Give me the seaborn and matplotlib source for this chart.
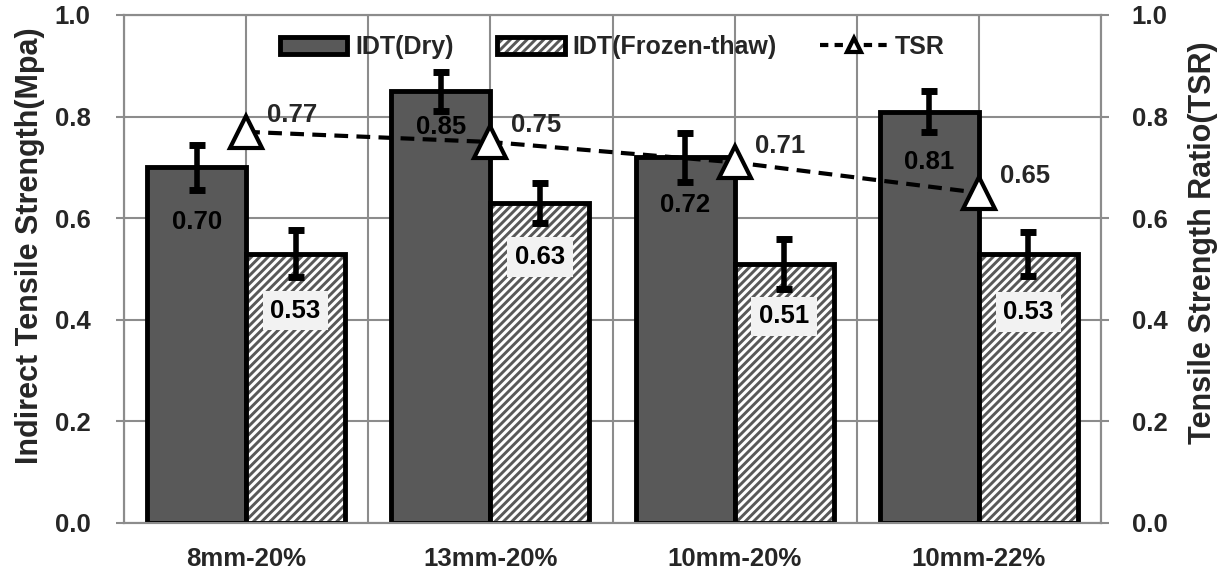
import matplotlib
matplotlib.use("Agg")
import matplotlib.pyplot as plt
from matplotlib.patches import Patch, Rectangle
from matplotlib.lines import Line2D
import numpy as np
import pandas as pd
import seaborn as sns

# ---------------- data ----------------
categories = ["8mm-20%", "13mm-20%", "10mm-20%", "10mm-22%"]
idt_dry = [0.70, 0.85, 0.72, 0.81]
idt_ft = [0.53, 0.63, 0.51, 0.53]
err_dry = [0.045, 0.038, 0.048, 0.041]
err_ft = [0.046, 0.039, 0.049, 0.043]
tsr = [0.77, 0.75, 0.71, 0.65]
series_names = ["IDT(Dry)", "IDT(Frozen-thaw)", "TSR"]
yticks = [0.0, 0.2, 0.4, 0.6, 0.8, 1.0]

# label layout offsets (below bar top)
dry_lab_off = [0.107, 0.07, 0.094, 0.10]
ft_lab_off = [0.112, 0.106, 0.103, 0.115]

sns.set_theme(style="white")
plt.rcParams["font.family"] = ["Liberation Sans", "DejaVu Sans"]
plt.rcParams["font.weight"] = "bold"
plt.rcParams["hatch.linewidth"] = 2.1

DARK = "#595959"
GRID = "#8c8c8c"
FS_TICK = 18.5
FS_LAB = 22

df = pd.DataFrame({
    "Mix": categories * 2,
    "IDT": idt_dry + idt_ft,
    "Condition": [series_names[0]] * 4 + [series_names[1]] * 4,
})

fig = plt.figure(figsize=(12.21, 5.71), dpi=100)
ax = fig.add_axes([124 / 1221, 1 - 523 / 571, (1101 - 124) / 1221, (523 - 15) / 571])

sns.barplot(data=df, x="Mix", y="IDT", hue="Condition", order=categories,
            hue_order=series_names[:2], palette=[DARK, "white"], width=0.81,
            dodge=True, ax=ax, legend=False, zorder=3, linewidth=3.5,
            edgecolor="black", errorbar=None)

dry_bars = list(ax.containers[0])
ft_bars = list(ax.containers[1])
for b in ft_bars:
    b.set_hatch("////")
    b.set_edgecolor(DARK)
    b.set_linewidth(0)
    ax.add_patch(Rectangle(b.get_xy(), b.get_width(), b.get_height(), fill=False,
                           edgecolor="black", linewidth=3.5, zorder=3.5))

# error bars
xd = [b.get_x() + b.get_width() / 2 for b in dry_bars]
xf = [b.get_x() + b.get_width() / 2 for b in ft_bars]
for xs, vals, errs in ((xd, idt_dry, err_dry), (xf, idt_ft, err_ft)):
    ax.errorbar(xs, vals, yerr=errs, fmt="none", ecolor="black", elinewidth=4,
                capsize=6, capthick=5, zorder=5)

# value labels
for x, v, o in zip(xd, idt_dry, dry_lab_off):
    ax.text(x, v - o, f"{v:.2f}", ha="center", va="center", fontsize=FS_TICK,
            fontweight="bold", color="black", zorder=6)
for x, v, o in zip(xf, idt_ft, ft_lab_off):
    ax.text(x, v - o, f"{v:.2f}", ha="center", va="center", fontsize=FS_TICK,
            fontweight="bold", color="black", zorder=6,
            bbox=dict(boxstyle="square,pad=0.3", facecolor="#f2f2f2", edgecolor="none"))

# axes styling
ax.set_ylim(0, 1)
ax.set_xlim(-0.5, 3.5)
ax.set_yticks(yticks)
ax.set_yticklabels([f"{t:.1f}" for t in yticks], fontsize=FS_TICK, fontweight="bold")
ax.set_xticks(range(len(categories)))
ax.set_xticklabels(categories, fontsize=FS_TICK, fontweight="bold")
ax.set_xticks(np.arange(-0.5, 4, 1.0), minor=True)
ax.grid(True, which="both", axis="x", color=GRID, linewidth=1.5, zorder=0)
ax.grid(True, which="major", axis="y", color=GRID, linewidth=1.5, zorder=0)
ax.set_axisbelow(True)
ax.tick_params(axis="x", which="both", length=0, pad=17)
ax.tick_params(axis="y", length=6, width=1.5, color=GRID, pad=18, left=True)
for s in ax.spines.values():
    s.set_color(GRID)
    s.set_linewidth(1.5)
ax.set_xlabel("")
ax.set_ylabel("Indirect Tensile Strength(Mpa)", fontsize=FS_LAB, fontweight="bold")
ax.yaxis.set_label_coords(-0.081, 0.545)

# TSR on secondary axis
ax2 = ax.twinx()
sns.lineplot(x=np.arange(len(categories)), y=tsr, ax=ax2, color="black",
             linestyle=(0, (3.3, 2.0)), linewidth=3, marker="^", markersize=23,
             markerfacecolor="white", markeredgecolor="black", markeredgewidth=3,
             legend=False, zorder=7)
for i, v in enumerate(tsr):
    ax2.annotate(f"{v:.2f}", (i, v), xytext=(33, 12), textcoords="offset points",
                 ha="center", va="center", fontsize=FS_TICK, fontweight="bold")
ax2.set_ylim(0, 1)
ax2.set_xlim(-0.5, 3.5)
ax2.set_yticks(yticks)
ax2.set_yticklabels([f"{t:.1f}" for t in yticks], fontsize=FS_TICK, fontweight="bold")
ax2.tick_params(axis="y", length=6, width=1.5, color=GRID, pad=16, right=True)
for s in ax2.spines.values():
    s.set_color(GRID)
    s.set_linewidth(1.5)
ax2.set_xlabel("")
ax2.set_ylabel("Tensile Strength Ratio(TSR)", fontsize=FS_LAB, fontweight="bold")
ax2.yaxis.set_label_coords(1.089, 0.551)

# legend
h_dry = Patch(facecolor=DARK, edgecolor="black", linewidth=3.5)
h_ft = (Patch(facecolor="white", edgecolor=DARK, hatch="////", linewidth=0),
        Patch(fill=False, edgecolor="black", linewidth=3.5))
h_tsr = Line2D([], [], color="black", linestyle=(0, (2, 1.5)), linewidth=3, marker="^",
               markersize=10, markerfacecolor="white", markeredgecolor="black",
               markeredgewidth=3)
ax2.legend([h_dry, h_ft, h_tsr], series_names, loc="upper center",
           bbox_to_anchor=(0.5, 1.0), ncol=3, frameon=False,
           prop=dict(size=18, weight="bold"), handlelength=2.7, handletextpad=0.3,
           columnspacing=1.75, borderaxespad=0.4)

fig.savefig("out.png", dpi=100)
